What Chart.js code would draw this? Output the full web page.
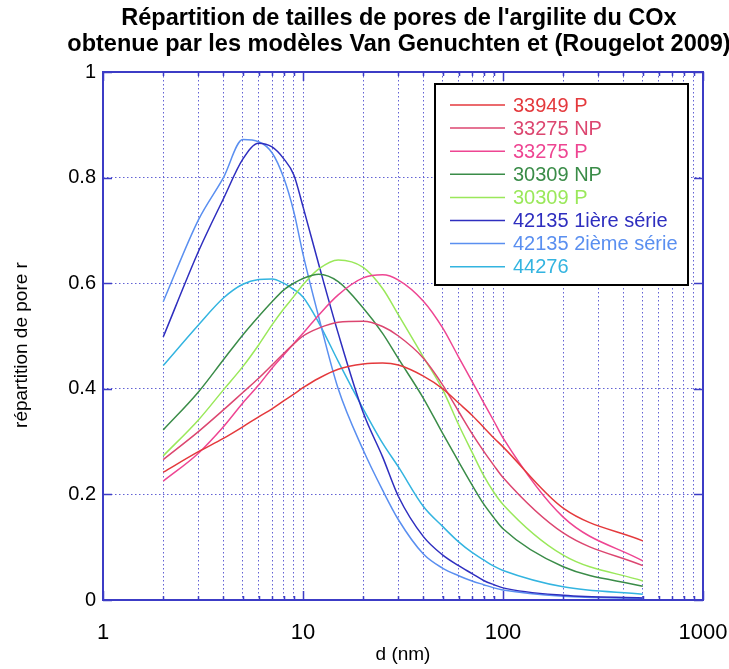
<!DOCTYPE html>
<html>
<head>
<meta charset="utf-8">
<script src="https://cdn.jsdelivr.net/npm/chart.js@4.4.1/dist/chart.umd.min.js"></script>
<style>
html,body{margin:0;padding:0;background:#ffffff;}
#wrap{width:729px;height:669px;}
</style>
</head>
<body>
<div id="wrap"><canvas id="c" width="729" height="669"></canvas></div>
<script>
// ---- text ----
const TITLE_LINES = ["Répartition de tailles de pores de l'argilite du COx",
                     "obtenue par les modèles Van Genuchten et (Rougelot 2009)"];
const X_TITLE = "d (nm)";
const Y_TITLE = "répartition de pore r";

// ---- data ----
const D_NM = [2,3,4,5,6,7,8,9,10,12,15,20,25,30,40,50,60,70,80,90,100,200,500];
const S_33949_P   = [0.242,0.281,0.306,0.328,0.347,0.362,0.377,0.390,0.402,0.420,0.437,0.447,0.449,0.445,0.424,0.400,0.373,0.350,0.327,0.307,0.290,0.174,0.112];
const S_33275_NP  = [0.266,0.319,0.360,0.393,0.420,0.445,0.467,0.485,0.500,0.515,0.526,0.528,0.518,0.500,0.458,0.407,0.357,0.315,0.282,0.255,0.232,0.127,0.065];
const S_33275_P   = [0.225,0.278,0.328,0.373,0.407,0.439,0.464,0.486,0.505,0.540,0.578,0.610,0.616,0.606,0.566,0.515,0.460,0.414,0.374,0.339,0.307,0.157,0.074];
const S_30309_NP  = [0.322,0.394,0.455,0.502,0.537,0.565,0.587,0.600,0.609,0.617,0.603,0.553,0.505,0.457,0.382,0.315,0.262,0.218,0.182,0.156,0.135,0.063,0.026];
const S_30309_P   = [0.273,0.341,0.398,0.442,0.483,0.521,0.551,0.575,0.597,0.627,0.644,0.630,0.590,0.540,0.460,0.398,0.332,0.280,0.236,0.204,0.181,0.085,0.036];
const S_42135_1   = [0.498,0.660,0.760,0.835,0.865,0.858,0.836,0.805,0.745,0.635,0.505,0.355,0.271,0.196,0.120,0.085,0.065,0.050,0.037,0.029,0.023,0.009,0.004];
const S_42135_2   = [0.565,0.720,0.800,0.872,0.868,0.847,0.800,0.735,0.655,0.535,0.400,0.284,0.208,0.152,0.087,0.060,0.046,0.036,0.029,0.023,0.019,0.007,0.003];
const S_44276     = [0.444,0.521,0.572,0.598,0.607,0.608,0.600,0.588,0.574,0.525,0.452,0.362,0.297,0.252,0.177,0.139,0.110,0.090,0.076,0.064,0.056,0.025,0.011];

const SERIES_LABELS = ["33949 P","33275 NP","33275 P","30309 NP","30309 P","42135 1ière série","42135 2ième série","44276"];
const SERIES_VALUES = [S_33949_P,S_33275_NP,S_33275_P,S_30309_NP,S_30309_P,S_42135_1,S_42135_2,S_44276];
const SERIES_COLORS = ["#e4393c","#dc4670","#ee4592","#3a8c48","#9ae85a","#2e2ebf","#5a8ff0","#33b4e0"];

// ---- ticks ----
const X_GRID_TICKS = [1,2,3,4,5,6,7,8,9,10,20,30,40,50,60,70,80,90,100,200,300,400,500,600,700,800,900,1000];
const X_TICK_LABELS = [1,10,100,1000];
const Y_TICKS = [0,0.2,0.4,0.6,0.8,1];

const FONT = "'Liberation Sans', Arial, sans-serif";
const AXIS_BLUE = "#3c3cc6";
const GRID_BLUE = "#6262d4";

Chart.defaults.font.family = FONT;
Chart.defaults.color = "#000000";

const datasets = SERIES_LABELS.map((lab, k) => ({
  label: lab,
  data: D_NM.map((d, i) => ({x: d, y: SERIES_VALUES[k][i]})),
  borderColor: SERIES_COLORS[k],
  backgroundColor: SERIES_COLORS[k],
  borderWidth: 1.5,
  pointRadius: 0,
  fill: false,
  cubicInterpolationMode: 'monotone'
}));

const framePlugin = {
  id: 'frame',
  afterDatasetsDraw(chart) {
    const ctx = chart.ctx, ca = chart.chartArea;
    const xs = chart.scales.x, ys = chart.scales.y;
    ctx.save();
    ctx.strokeStyle = AXIS_BLUE;
    ctx.lineWidth = 1.5;
    ctx.setLineDash([]);
    ctx.beginPath();
    xs.ticks.forEach(t => {
      const px = Math.round(xs.getPixelForValue(t.value)) + 0.5;
      const len = X_TICK_LABELS.includes(t.value) ? 9 : 4;
      ctx.moveTo(px, ca.bottom); ctx.lineTo(px, ca.bottom - len);
      ctx.moveTo(px, ca.top); ctx.lineTo(px, ca.top + len);
    });
    ys.ticks.forEach(t => {
      const py = Math.round(ys.getPixelForValue(t.value)) + 0.5;
      ctx.moveTo(ca.left, py); ctx.lineTo(ca.left + 9, py);
      ctx.moveTo(ca.right, py); ctx.lineTo(ca.right - 9, py);
    });
    ctx.stroke();
    ctx.lineWidth = 2;
    ctx.strokeRect(ca.left, ca.top, ca.right - ca.left, ca.bottom - ca.top);
    ctx.restore();
  },
  afterDraw(chart) {
    const ctx = chart.ctx, ca = chart.chartArea;
    ctx.save();
    // title
    ctx.fillStyle = "#000000";
    ctx.font = "bold 23.5px " + FONT;
    ctx.textAlign = 'center';
    ctx.textBaseline = 'middle';
    const cx = (ca.left + ca.right) / 2 - 4;
    ctx.fillText(TITLE_LINES[0], cx, 19);
    ctx.fillText(TITLE_LINES[1], cx, 45);
    // y axis title
    ctx.save();
    ctx.font = "19px " + FONT;
    ctx.translate(22, (ca.top + ca.bottom) / 2 + 9);
    ctx.rotate(-Math.PI / 2);
    ctx.fillText(Y_TITLE, 0, 0);
    ctx.restore();
    // legend
    const bx = ca.right - 268, by = ca.top + 12, bw = 253, bh = 201;
    ctx.fillStyle = "#ffffff";
    ctx.fillRect(bx, by, bw, bh);
    ctx.strokeStyle = "#000000";
    ctx.lineWidth = 2;
    ctx.strokeRect(bx, by, bw, bh);
    ctx.font = "20px " + FONT;
    ctx.textAlign = 'left';
    chart.data.datasets.forEach((ds, i) => {
      const y = by + 21 + i * 23.1;
      ctx.strokeStyle = ds.borderColor;
      ctx.lineWidth = 1.5;
      ctx.beginPath();
      ctx.moveTo(bx + 15, y); ctx.lineTo(bx + 70, y);
      ctx.stroke();
      ctx.fillStyle = ds.borderColor;
      ctx.fillText(ds.label, bx + 78, y + 1);
    });
    ctx.restore();
  }
};

new Chart(document.getElementById('c'), {
  type: 'line',
  data: { datasets },
  plugins: [framePlugin],
  options: {
    responsive: false,
    devicePixelRatio: 1,
    animation: false,
    layout: { padding: { top: 72, right: 26, bottom: 0, left: 0 } },
    plugins: { legend: { display: false }, title: { display: false }, tooltip: { enabled: false } },
    scales: {
      x: {
        type: 'logarithmic',
        min: 1, max: 1000,
        afterBuildTicks: (s) => { s.ticks = X_GRID_TICKS.map(v => ({ value: v })); },
        afterFit: (s) => { s.height = 69; s.paddingLeft = 0; s.paddingRight = 0; },
        grid: { color: GRID_BLUE, lineWidth: 1, drawTicks: false },
        border: { display: false, dash: [1.5, 2.5] },
        ticks: {
          autoSkip: false, maxRotation: 0, padding: 20,
          font: { size: 22 }, color: "#000000",
          callback: (v) => X_TICK_LABELS.includes(v) ? String(v) : ''
        },
        title: { display: true, text: X_TITLE, font: { size: 19, lineHeight: 1.2 }, color: "#000000", padding: { top: 0, bottom: 3 } }
      },
      y: {
        min: 0, max: 1,
        afterBuildTicks: (s) => { s.ticks = Y_TICKS.map(v => ({ value: v })); },
        afterFit: (s) => { s.width = 103; s.paddingTop = 0; s.paddingBottom = 0; },
        grid: { color: GRID_BLUE, lineWidth: 1, drawTicks: false },
        border: { display: false, dash: [1.5, 2.5] },
        ticks: { padding: 7, font: { size: 20 }, color: "#000000", callback: (v) => String(v) },
        title: { display: false }
      }
    }
  }
});
</script>
</body>
</html>
